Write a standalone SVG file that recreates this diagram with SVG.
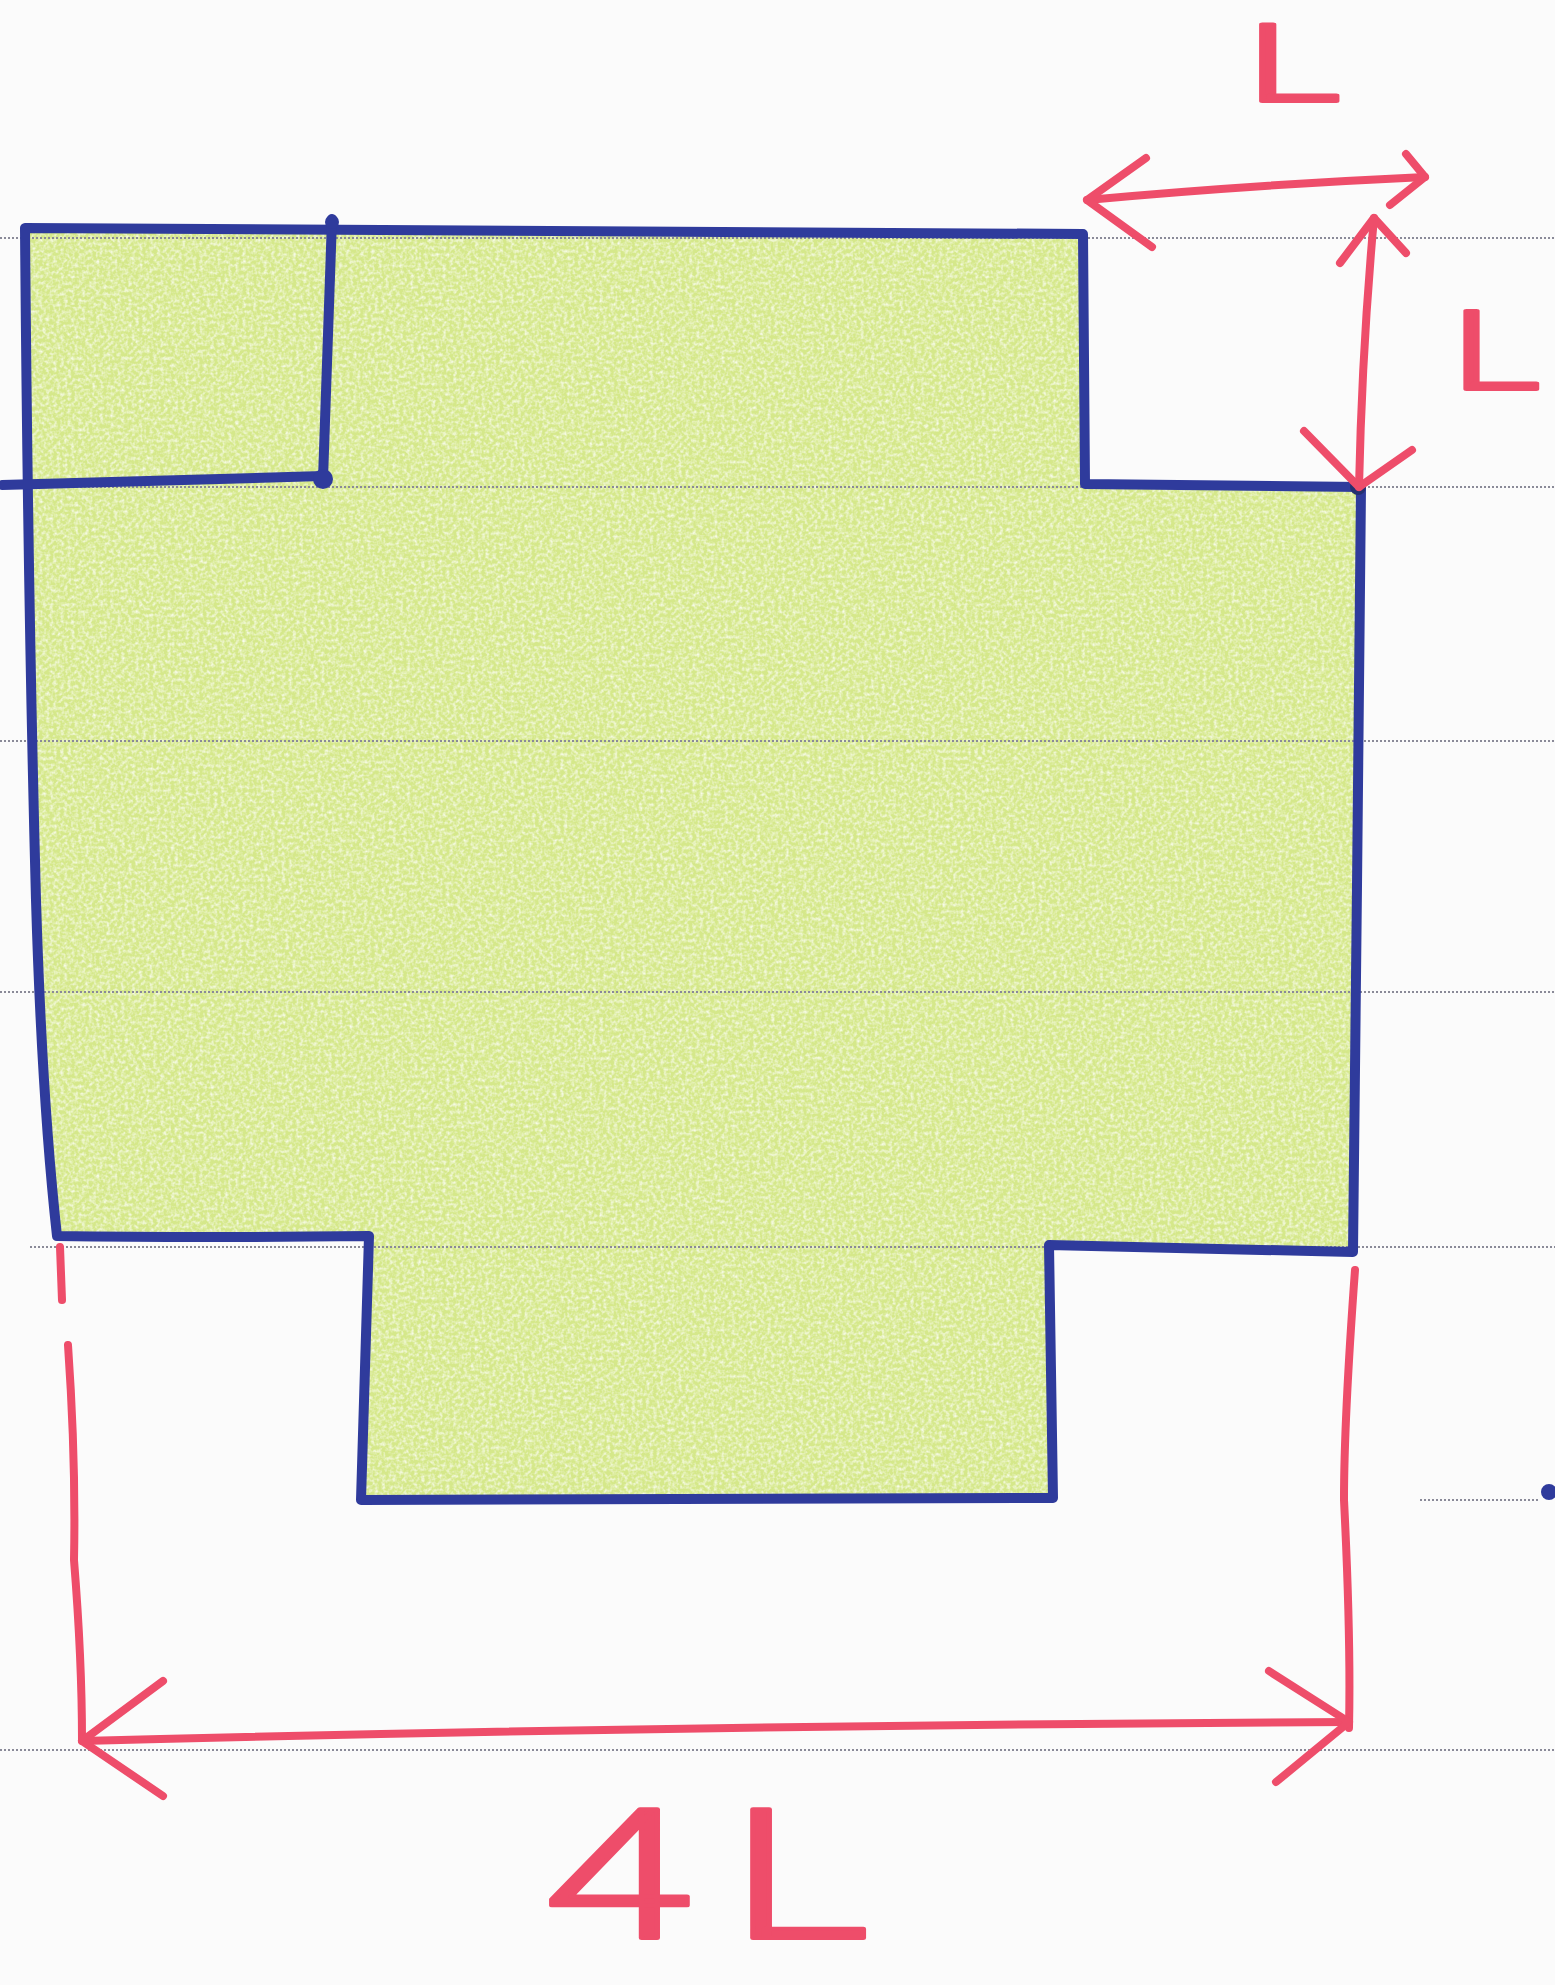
<svg xmlns="http://www.w3.org/2000/svg" width="1555" height="1985" viewBox="0 0 1555 1985">
<defs>
<filter id="grain" x="0" y="0" width="100%" height="100%">
<feTurbulence type="fractalNoise" baseFrequency="0.28" numOctaves="2" seed="7" result="n"/>
<feColorMatrix in="n" values="0 0 0 0 1  0 0 0 0 1  0 0 0 0 1  0 0 0 1.6 -0.62" result="w"/>
<feComposite in="w" in2="SourceGraphic" operator="in"/>
</filter>
</defs>
<style>
.rule{stroke:#8a8a98;stroke-width:1.8;stroke-dasharray:2 2;fill:none}
.pen{stroke:#2f3b9c;stroke-width:10;fill:none;stroke-linecap:round;stroke-linejoin:round}
.red{stroke:#ee4d6a;stroke-width:8;fill:none;stroke-linecap:round;stroke-linejoin:round}
.lbl{font-family:Roboto,"DejaVu Sans",sans-serif;font-weight:300;fill:#ee4d6a;stroke:#ee4d6a;stroke-linejoin:round}
</style>
<rect width="1555" height="1985" fill="#fbfbfb"/>
<g id="fill">
<path d="M25,228 L1083,234 L1085,484 L1361,487 L1357,886 L1353,1252 L1049,1245 L1053,1498 L361,1500 L369,1236 L57,1236 Q42,1100 36,900 Q28,600 25,228 Z" fill="#d5e88a"/>
<path d="M25,228 L1083,234 L1085,484 L1361,487 L1357,886 L1353,1252 L1049,1245 L1053,1498 L361,1500 L369,1236 L57,1236 Q42,1100 36,900 Q28,600 25,228 Z" fill="#000" filter="url(#grain)"/>
</g>
<g id="rules">
<path class="rule" d="M0,238 H1555"/>
<path class="rule" d="M0,487 H1555"/>
<path class="rule" d="M0,741 H1555"/>
<path class="rule" d="M0,992 H1555"/>
<path class="rule" d="M30,1247 H1555"/>
<path class="rule" d="M1420,1500 H1540"/>
<path class="rule" d="M0,1750 H1555"/>
</g>
<g id="net">
<path class="pen" d="M25,228 L1083,234 L1085,484 L1361,487 L1357,886 L1353,1252 L1049,1245 L1053,1498 L361,1500 L369,1236 Q200,1238 57,1236 Q42,1100 36,900 Q28,600 25,228 Z"/>
<path class="pen" d="M332,219 L323,479"/>
<path class="pen" d="M2,485 L323,476"/>
<circle cx="323" cy="479" r="10" fill="#2f3b9c"/>
<circle cx="332" cy="222" r="7" fill="#2f3b9c"/>
<circle cx="1358" cy="487" r="8" fill="#24306f"/>
<circle cx="1549" cy="1492" r="8" fill="#2f3b9c"/>
</g>
<g id="connectors">
<path class="red" d="M1087,200 Q1250,185 1425,177"/>
<path class="red" d="M1146,158 L1087,200 L1152,247"/>
<path class="red" d="M1406,154 L1425,177 L1390,205"/>
<path class="red" d="M1374,218 Q1362,350 1359,487"/>
<path class="red" d="M1340,263 L1374,218 L1406,253"/>
<path class="red" d="M1304,431 L1359,487 L1412,450"/>
<path class="red" d="M60,1247 L62,1300"/>
<path class="red" d="M68,1345 Q76,1460 74,1560 Q82,1660 82,1740"/>
<path class="red" d="M1355,1270 Q1344,1420 1344,1500 Q1351,1640 1349,1728"/>
<path class="red" d="M82,1741 Q700,1725 1349,1722"/>
<path class="red" d="M163,1681 L82,1741 L163,1796"/>
<path class="red" d="M1269,1671 L1349,1722 L1276,1782"/>
</g>
<g id="labels">
<text class="lbl" transform="translate(1246,101) scale(1.8,1.08)" font-size="100" stroke-width="3.5">L</text>
<text class="lbl" transform="translate(1451,389) scale(1.7,1.1)" font-size="100" stroke-width="3.5">L</text>
<text class="lbl" transform="translate(543,1938) scale(1.85,1.25)" font-size="145" stroke-width="3" letter-spacing="20">4L</text>
</g>
</svg>
